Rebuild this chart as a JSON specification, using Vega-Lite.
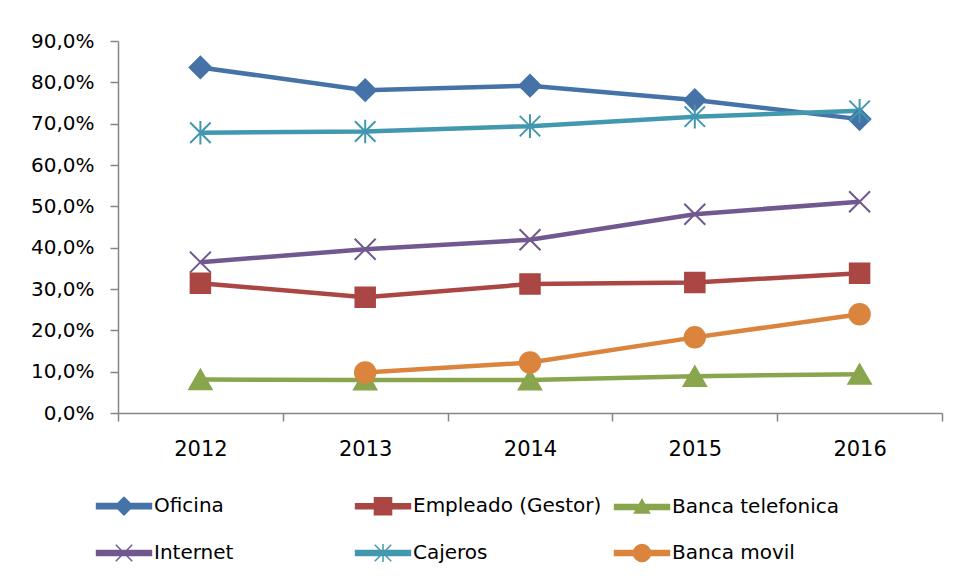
{
  "$schema": "https://vega.github.io/schema/vega-lite/v6.json",
  "width": 824,
  "height": 372,
  "autosize": {"type": "none"},
  "padding": {"left": 118, "top": 41, "right": 15, "bottom": 170},
  "background": "white",
  "config": {"view": {"stroke": null}},
  "data": {
    "values": [
      {"canal": "Oficina", "anio": "2012", "valor": 0.836},
      {"canal": "Oficina", "anio": "2013", "valor": 0.781},
      {"canal": "Oficina", "anio": "2014", "valor": 0.792},
      {"canal": "Oficina", "anio": "2015", "valor": 0.757},
      {"canal": "Oficina", "anio": "2016", "valor": 0.711},
      {"canal": "Empleado (Gestor)", "anio": "2012", "valor": 0.314},
      {"canal": "Empleado (Gestor)", "anio": "2013", "valor": 0.280},
      {"canal": "Empleado (Gestor)", "anio": "2014", "valor": 0.312},
      {"canal": "Empleado (Gestor)", "anio": "2015", "valor": 0.316},
      {"canal": "Empleado (Gestor)", "anio": "2016", "valor": 0.338},
      {"canal": "Banca telefonica", "anio": "2012", "valor": 0.081},
      {"canal": "Banca telefonica", "anio": "2013", "valor": 0.080},
      {"canal": "Banca telefonica", "anio": "2014", "valor": 0.080},
      {"canal": "Banca telefonica", "anio": "2015", "valor": 0.089},
      {"canal": "Banca telefonica", "anio": "2016", "valor": 0.094},
      {"canal": "Internet", "anio": "2012", "valor": 0.365},
      {"canal": "Internet", "anio": "2013", "valor": 0.396},
      {"canal": "Internet", "anio": "2014", "valor": 0.419},
      {"canal": "Internet", "anio": "2015", "valor": 0.481},
      {"canal": "Internet", "anio": "2016", "valor": 0.511},
      {"canal": "Cajeros", "anio": "2012", "valor": 0.678},
      {"canal": "Cajeros", "anio": "2013", "valor": 0.681},
      {"canal": "Cajeros", "anio": "2014", "valor": 0.694},
      {"canal": "Cajeros", "anio": "2015", "valor": 0.717},
      {"canal": "Cajeros", "anio": "2016", "valor": 0.731},
      {"canal": "Banca movil", "anio": "2013", "valor": 0.098},
      {"canal": "Banca movil", "anio": "2014", "valor": 0.122},
      {"canal": "Banca movil", "anio": "2015", "valor": 0.183},
      {"canal": "Banca movil", "anio": "2016", "valor": 0.239}
    ]
  },
  "encoding": {
    "x": {
      "field": "anio",
      "type": "ordinal",
      "bandPosition": 0.5,
      "scale": {"type": "band", "paddingInner": 0, "paddingOuter": 0},
      "axis": {
        "title": null,
        "labelAngle": 0,
        "tickBand": "extent",
        "tickSize": 8,
        "tickColor": "#868686",
        "tickWidth": 1.5,
        "domainColor": "#868686",
        "domainWidth": 1.5,
        "labelFont": "DejaVu Sans",
        "labelFontSize": 21,
        "labelColor": "#000000",
        "labelPadding": 17
      }
    },
    "y": {
      "field": "valor",
      "type": "quantitative",
      "scale": {"domain": [0, 0.9], "nice": false},
      "axis": {
        "title": null,
        "grid": false,
        "values": [0, 0.1, 0.2, 0.3, 0.4, 0.5, 0.6, 0.7, 0.8, 0.9],
        "labelExpr": "replace(format(datum.value, '.1%'), '.', ',')",
        "tickSize": 8,
        "tickColor": "#868686",
        "tickWidth": 1.5,
        "domainColor": "#868686",
        "domainWidth": 1.5,
        "labelFont": "DejaVu Sans",
        "labelFontSize": 20,
        "labelColor": "#000000",
        "labelPadding": 16
      }
    },
    "color": {
      "field": "canal",
      "type": "nominal",
      "scale": {
        "domain": ["Oficina", "Empleado (Gestor)", "Banca telefonica", "Internet", "Cajeros", "Banca movil"],
        "range": ["#4572A7", "#AA4643", "#89A54E", "#71588F", "#4198AF", "#DB843D"]
      },
      "legend": {
        "title": null,
        "orient": "none",
        "legendX": -10,
        "legendY": 449,
        "direction": "horizontal",
        "columns": 3,
        "gridAlign": "all",
        "columnPadding": 9,
        "rowPadding": 19,
        "padding": 0,
        "labelFont": "DejaVu Sans",
        "labelFontSize": 20,
        "labelColor": "#000000",
        "labelOffset": 14,
        "labelLimit": 400,
        "symbolSize": 900,
        "symbolStrokeWidth": 1.5,
        "symbolOpacity": 1,
        "encode": {
          "symbols": {
            "update": {
              "shape": {
                "signal": "datum.value === 'Oficina' ? 'M-1.83,-0.17H1.83V0.17H-1.83Z M0,-0.59L0.59,0L0,0.59L-0.59,0Z' : datum.value === 'Empleado (Gestor)' ? 'M-1.83,-0.17H1.83V0.17H-1.83Z M-0.57,-0.57H0.57V0.57H-0.57Z' : datum.value === 'Banca telefonica' ? 'M-1.83,-0.17H1.83V0.17H-1.83Z M0,-0.5L0.5,0.4L-0.5,0.4Z' : datum.value === 'Internet' ? 'M-1.83,-0.17H1.83V0.17H-1.83Z M-0.55,-0.55L0.55,0.55M-0.55,0.55L0.55,-0.55' : datum.value === 'Cajeros' ? 'M-1.83,-0.17H1.83V0.17H-1.83Z M-0.55,-0.55L0.55,0.55M-0.55,0.55L0.55,-0.55M0,-0.6V0.6' : 'M-1.83,-0.17H1.83V0.17H-1.83Z M-0.57,0A0.57,0.57,0,1,1,0.57,0A0.57,0.57,0,1,1,-0.57,0Z'"
              },
              "size": {"value": 900},
              "strokeWidth": {"value": 1.5}
            }
          }
        }
      }
    }
  },
  "layer": [
    {"mark": {"type": "line", "strokeWidth": 4.5}},
    {
      "transform": [{"filter": "datum.canal === 'Oficina'"}],
      "mark": {"type": "point", "shape": "diamond", "size": 460, "filled": true, "opacity": 1, "stroke": "#4572A7", "strokeWidth": 2}
    },
    {
      "transform": [{"filter": "datum.canal === 'Empleado (Gestor)'"}],
      "mark": {"type": "point", "shape": "square", "size": 380, "filled": true, "opacity": 1, "stroke": "#AA4643", "strokeWidth": 2}
    },
    {
      "transform": [{"filter": "datum.canal === 'Banca telefonica'"}],
      "mark": {"type": "point", "shape": "triangle-up", "size": 500, "filled": true, "opacity": 1, "stroke": "#89A54E", "strokeWidth": 2}
    },
    {
      "transform": [{"filter": "datum.canal === 'Internet'"}],
      "mark": {"type": "point", "shape": "M-1,-1L1,1M-1,1L1,-1", "size": 440, "filled": true, "opacity": 1, "stroke": "#71588F", "strokeWidth": 2}
    },
    {
      "transform": [{"filter": "datum.canal === 'Cajeros'"}],
      "mark": {"type": "point", "shape": "M-1,-1L1,1M-1,1L1,-1M0,-1.15V1.15", "size": 420, "filled": true, "opacity": 1, "stroke": "#4198AF", "strokeWidth": 2}
    },
    {
      "transform": [{"filter": "datum.canal === 'Banca movil'"}],
      "mark": {"type": "point", "shape": "circle", "size": 420, "filled": true, "opacity": 1, "stroke": "#DB843D", "strokeWidth": 2}
    }
  ]
}
